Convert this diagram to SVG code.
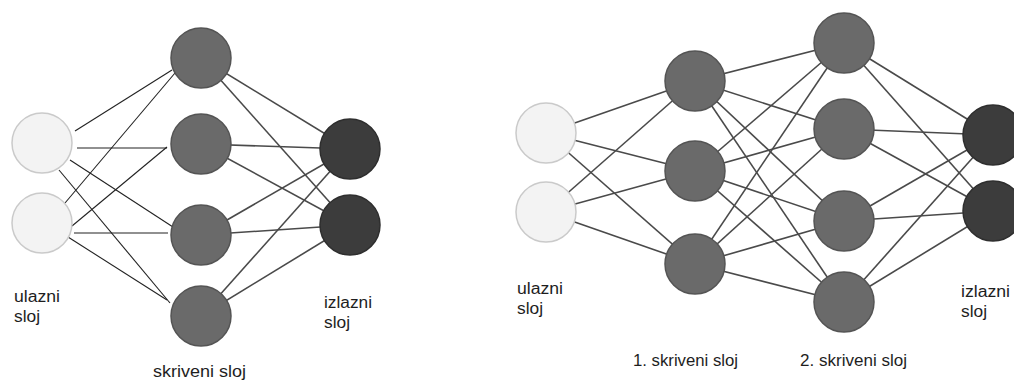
<svg xmlns="http://www.w3.org/2000/svg" width="1014" height="381" viewBox="0 0 1014 381">
<style>
.in{fill:#f3f3f3;stroke:#cacaca;stroke-width:1.5}
.hid{fill:#6a6a6a;stroke:#545454;stroke-width:1.5}
.out{fill:#3c3c3c;stroke:#2e2e2e;stroke-width:1.5}
.thin{stroke:#222;stroke-width:1.1;fill:none}
.edge{stroke:#4a4a4a;stroke-width:1.6;fill:none}
.lbl{font-family:"Liberation Sans",Arial,sans-serif;font-size:16px;fill:#1e1e1e}
</style>
<rect width="1014" height="381" fill="#fff"/>
<g id="connectors">
<g id="left-in-hidden" class="thin">
<line x1="75" y1="131" x2="172" y2="70"/>
<line x1="77" y1="148" x2="167" y2="148"/>
<line x1="70" y1="160" x2="173" y2="227"/>
<line x1="59" y1="170" x2="170" y2="303"/>
<line x1="65" y1="203" x2="175" y2="73"/>
<line x1="72" y1="226" x2="167" y2="147"/>
<line x1="74" y1="233" x2="168" y2="233"/>
<line x1="68" y1="237" x2="167" y2="300"/>
</g>
<g id="left-hidden-out" class="edge">
<line x1="201" y1="58" x2="350" y2="149"/>
<line x1="201" y1="58" x2="350" y2="225"/>
<line x1="201" y1="144" x2="350" y2="149"/>
<line x1="201" y1="144" x2="350" y2="225"/>
<line x1="201" y1="235" x2="350" y2="149"/>
<line x1="201" y1="235" x2="350" y2="225"/>
<line x1="201" y1="316" x2="350" y2="149"/>
<line x1="201" y1="316" x2="350" y2="225"/>
</g>
<g id="right-edges" class="edge">
<line x1="546" y1="133" x2="695" y2="81"/>
<line x1="546" y1="133" x2="695" y2="171"/>
<line x1="546" y1="133" x2="695" y2="264"/>
<line x1="546" y1="212" x2="695" y2="81"/>
<line x1="546" y1="212" x2="695" y2="171"/>
<line x1="546" y1="212" x2="695" y2="264"/>
<line x1="695" y1="81" x2="844" y2="43"/>
<line x1="695" y1="81" x2="844" y2="129"/>
<line x1="695" y1="81" x2="844" y2="221"/>
<line x1="695" y1="81" x2="844" y2="302"/>
<line x1="695" y1="171" x2="844" y2="43"/>
<line x1="695" y1="171" x2="844" y2="129"/>
<line x1="695" y1="171" x2="844" y2="221"/>
<line x1="695" y1="171" x2="844" y2="302"/>
<line x1="695" y1="264" x2="844" y2="43"/>
<line x1="695" y1="264" x2="844" y2="129"/>
<line x1="695" y1="264" x2="844" y2="221"/>
<line x1="695" y1="264" x2="844" y2="302"/>
<line x1="844" y1="43" x2="993" y2="135"/>
<line x1="844" y1="43" x2="993" y2="211"/>
<line x1="844" y1="129" x2="993" y2="135"/>
<line x1="844" y1="129" x2="993" y2="211"/>
<line x1="844" y1="221" x2="993" y2="135"/>
<line x1="844" y1="221" x2="993" y2="211"/>
<line x1="844" y1="302" x2="993" y2="135"/>
<line x1="844" y1="302" x2="993" y2="211"/>
</g>
</g>
<g id="L-in1"><circle class="in" cx="42" cy="143" r="30"/></g>
<g id="L-in2"><circle class="in" cx="42" cy="223" r="30"/></g>
<g id="L-h1"><circle class="hid" cx="201" cy="58" r="30"/></g>
<g id="L-h2"><circle class="hid" cx="201" cy="144" r="30"/></g>
<g id="L-h3"><circle class="hid" cx="201" cy="235" r="30"/></g>
<g id="L-h4"><circle class="hid" cx="201" cy="316" r="30"/></g>
<g id="L-o1"><circle class="out" cx="350" cy="149" r="30"/></g>
<g id="L-o2"><circle class="out" cx="350" cy="225" r="30"/></g>
<g id="R-in1"><circle class="in" cx="546" cy="133" r="30"/></g>
<g id="R-in2"><circle class="in" cx="546" cy="212" r="30"/></g>
<g id="R-h1a"><circle class="hid" cx="695" cy="81" r="30"/></g>
<g id="R-h1b"><circle class="hid" cx="695" cy="171" r="30"/></g>
<g id="R-h1c"><circle class="hid" cx="695" cy="264" r="30"/></g>
<g id="R-h2a"><circle class="hid" cx="844" cy="43" r="30"/></g>
<g id="R-h2b"><circle class="hid" cx="844" cy="129" r="30"/></g>
<g id="R-h2c"><circle class="hid" cx="844" cy="221" r="30"/></g>
<g id="R-h2d"><circle class="hid" cx="844" cy="302" r="30"/></g>
<g id="R-o1"><circle class="out" cx="993" cy="135" r="30"/></g>
<g id="R-o2"><circle class="out" cx="993" cy="211" r="30"/></g>
<g id="labels" class="lbl">
<text x="14" y="302" textLength="46" lengthAdjust="spacingAndGlyphs">ulazni</text>
<text x="14" y="322" textLength="26" lengthAdjust="spacingAndGlyphs">sloj</text>
<text x="324" y="308" textLength="48" lengthAdjust="spacingAndGlyphs">izlazni</text>
<text x="324" y="328" textLength="26" lengthAdjust="spacingAndGlyphs">sloj</text>
<text x="153" y="377" textLength="93" lengthAdjust="spacingAndGlyphs">skriveni sloj</text>
<text x="517" y="294" textLength="46" lengthAdjust="spacingAndGlyphs">ulazni</text>
<text x="517" y="314" textLength="26" lengthAdjust="spacingAndGlyphs">sloj</text>
<text x="961" y="297" textLength="49" lengthAdjust="spacingAndGlyphs">izlazni</text>
<text x="961" y="317" textLength="26" lengthAdjust="spacingAndGlyphs">sloj</text>
<text x="633" y="366" textLength="105" lengthAdjust="spacingAndGlyphs">1. skriveni sloj</text>
<text x="800" y="366" textLength="107" lengthAdjust="spacingAndGlyphs">2. skriveni sloj</text>
</g>
</svg>
